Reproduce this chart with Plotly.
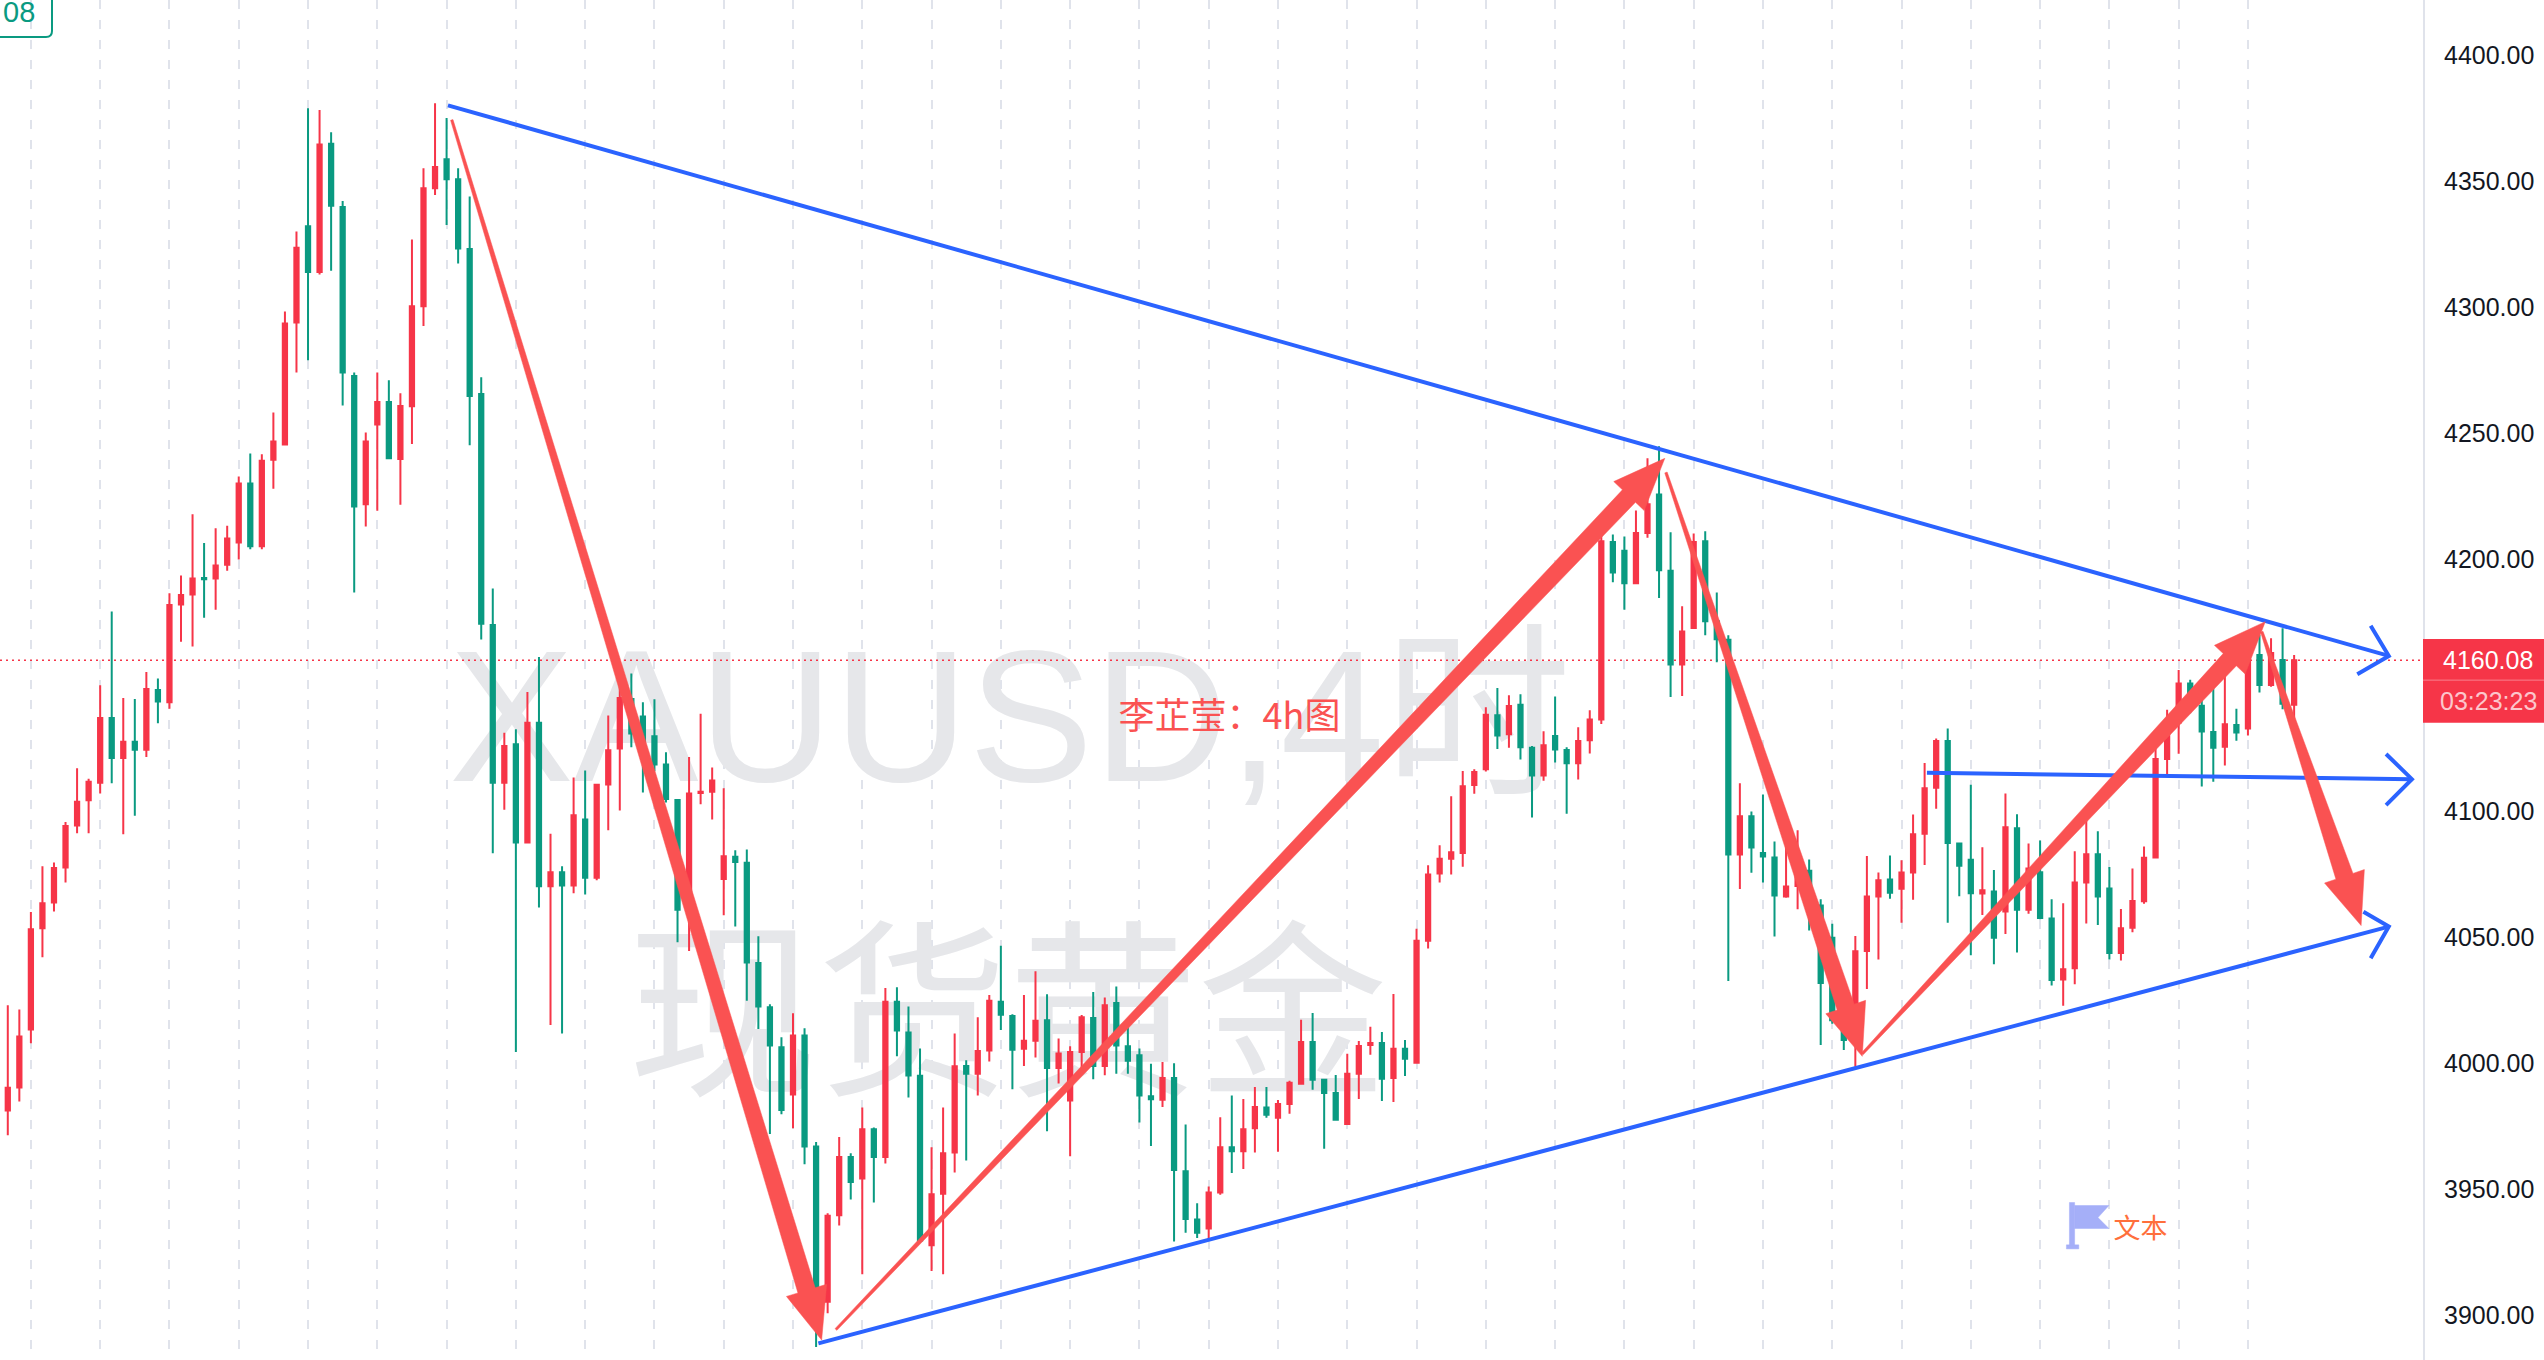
import plotly.graph_objects as go

# ---- candle data ----
open_ = [3981.4,3990.5,4013.6,4053.7,4064.0,4077.8,4094.5,4104.5,4111.5,4137.2,
 4121.3,4127.7,4124.6,4148.3,4143.4,4182.2,4186.2,4192.7,4192.5,4198.0,
 4206.8,4230.2,4205.3,4239.7,4245.7,4294.1,4332.3,4314.2,4365.1,4340.0,
 4272.9,4222.0,4253.6,4262.6,4240.0,4260.9,4300.6,4347.4,4358.9,4351.0,
 4323.3,4265.7,4174.1,4111.5,4126.8,4087.8,4135.3,4070.4,4076.0,4070.7,
 4096.9,4073.8,4110.8,4125.1,4144.7,4137.8,4129.9,4118.7,4104.6,4066.0,
 4107.4,4107.9,4073.3,4082.1,4079.7,4039.9,4022.4,4006.5,3987.8,4011.2,
 3967.1,3905.5,3939.8,3963.0,3954.4,3974.0,3963.0,4024.6,4012.4,3995.2,
 3927.9,3948.4,3964.7,3999.1,3996.0,4005.2,4024.6,4018.9,4005.9,4009.1,
 4017.2,3998.3,3985.4,4004.6,4018.1,3999.1,4024.1,4006.9,4003.3,3987.1,
 3985.7,3994.3,3957.3,3938.2,3934.6,3948.9,3966.8,3965.2,3974.4,3982.6,
 3978.5,3984.0,3992.0,4008.6,3993.6,3988.4,3976.1,3996.0,4007.4,4008.2,
 3994.3,4005.9,4000.4,4048.8,4075.5,4081.3,4083.6,4110.6,4116.8,4138.3,
 4130.7,4142.4,4125.4,4114.4,4130.0,4124.5,4119.2,4128.3,4136.6,4207.0,
 4203.5,4190.6,4210.6,4225.9,4195.6,4158.4,4172.9,4207.3,4175.6,4168.2,
 4083.0,4098.2,4083.6,4081.8,4066.3,4070.5,4076.6,4062.8,4050.0,4020.0,
 4010.0,4044.7,4066.3,4073.1,4069.4,4075.9,4091.2,4109.5,4128.0,4087.4,
 4080.9,4067.5,4068.3,4060.4,4093.4,4061.1,4076.0,4057.6,4033.4,4037.9,
 4071.9,4083.1,4069.5,4043.9,4053.9,4064.4,4081.8,4120.9,4135.4,4150.9,
 4142.0,4131.6,4125.8,4134.4,4133.0,4162.2,4150.3,4160.2,4142.4]
high = [4023.2,4021.5,4060.2,4078.3,4079.8,4095.9,4117.2,4113.1,4150.2,4179.4,
 4145.1,4144.7,4155.4,4152.8,4186.7,4193.7,4218.0,4206.6,4212.5,4213.5,
 4233.0,4242.1,4241.8,4258.4,4298.5,4330.2,4379.1,4378.4,4369.6,4342.3,
 4274.3,4250.5,4274.3,4271.2,4266.0,4327.1,4355.3,4381.1,4375.3,4355.3,
 4344.1,4272.4,4188.6,4131.3,4132.7,4147.5,4161.4,4091.2,4078.3,4113.6,
 4116.3,4110.7,4138.2,4151.0,4154.8,4143.4,4144.6,4123.6,4105.0,4121.7,
 4138.9,4117.5,4109.3,4084.7,4085.0,4050.6,4023.6,4010.5,4020.0,4014.1,
 3968.9,3940.6,3970.9,3964.4,3982.6,3974.7,4030.0,4030.3,4022.7,4006.0,
 3966.8,3982.6,4012.0,4001.4,4018.4,4027.2,4046.8,4019.6,4027.2,4036.7,
 4027.5,4010.0,4006.9,4019.3,4028.4,4026.3,4030.6,4014.6,4006.0,4000.0,
 4000.7,4000.2,3975.9,3944.6,3951.3,3978.7,3987.4,3986.0,3990.7,3990.7,
 3985.6,3993.2,4017.4,4020.1,3994.0,3995.5,4003.9,4009.0,4014.6,4012.6,
 4027.6,4009.4,4053.5,4078.7,4086.7,4106.1,4116.1,4116.8,4141.4,4149.1,
 4146.2,4146.6,4126.1,4131.9,4145.7,4125.6,4133.5,4140.2,4209.7,4210.0,
 4209.2,4219.5,4240.2,4245.0,4210.9,4181.5,4210.4,4211.3,4187.0,4170.0,
 4111.3,4100.1,4106.8,4088.2,4090.0,4092.6,4081.0,4065.2,4055.5,4030.0,
 4050.7,4082.4,4075.9,4082.6,4080.7,4098.9,4119.3,4129.0,4133.0,4087.6,
 4110.7,4085.9,4076.9,4107.2,4099.0,4087.4,4088.6,4065.2,4063.7,4084.3,
 4097.2,4092.2,4078.0,4061.4,4077.4,4086.2,4125.8,4140.4,4156.2,4152.3,
 4152.0,4149.6,4155.0,4140.8,4170.0,4170.1,4168.8,4172.8,4162.2]
low = [3971.6,3985.0,4008.1,4042.2,4060.4,4071.9,4091.4,4091.4,4107.2,4111.3,
 4091.0,4098.4,4121.7,4135.1,4140.8,4167.4,4165.5,4177.0,4180.1,4195.6,
 4200.1,4204.1,4204.1,4228.1,4245.7,4274.3,4279.1,4313.2,4314.7,4261.2,
 4187.0,4213.2,4219.4,4240.2,4221.8,4245.9,4292.7,4344.7,4332.8,4317.5,
 4245.4,4168.3,4083.5,4100.8,4004.6,4087.8,4062.0,4015.3,4012.0,4067.6,
 4067.1,4072.8,4092.6,4100.5,4125.6,4107.6,4116.0,4103.6,4048.2,4044.7,
 4102.9,4096.9,4058.9,4054.4,4025.0,4013.8,3972.1,3979.9,3974.4,3960.1,
 3887.6,3901.0,3935.8,3946.1,3916.4,3944.9,3960.4,4002.9,3986.6,3929.8,
 3917.7,3916.4,3956.8,3961.6,3987.4,4000.9,4013.4,3989.8,3999.1,4002.4,
 3973.2,3992.1,3963.3,3998.3,3993.8,3995.4,3996.0,3996.0,3976.6,3967.3,
 3982.8,3929.4,3932.9,3930.8,3930.3,3948.0,3956.6,3958.2,3964.7,3978.5,
 3965.0,3980.1,3992.0,3989.6,3966.2,3977.3,3975.7,3986.0,4003.5,3985.2,
 3984.8,3995.1,4000.4,4045.7,4071.9,4075.1,4078.1,4107.1,4115.9,4124.9,
 4125.4,4120.7,4097.7,4112.3,4119.5,4099.2,4112.8,4123.1,4134.8,4191.0,
 4180.1,4190.6,4208.7,4184.8,4145.5,4145.9,4172.9,4170.0,4159.3,4032.8,
 4069.3,4075.8,4071.9,4050.5,4065.8,4061.3,4052.8,4007.4,4015.8,4005.4,
 3998.8,4029.6,4041.3,4065.4,4055.9,4065.0,4078.8,4101.2,4055.9,4066.4,
 4043.0,4059.0,4039.4,4051.5,4044.1,4059.5,4057.3,4031.0,4023.0,4031.5,
 4055.6,4055.0,4041.3,4040.9,4052.1,4063.5,4081.8,4114.6,4123.0,4139.1,
 4110.0,4111.9,4118.3,4128.1,4130.2,4147.3,4149.6,4140.6,4136.4]
close = [3990.4,4010.8,4053.3,4063.7,4077.6,4094.3,4103.9,4111.9,4137.2,4121.3,
 4127.7,4124.6,4148.7,4143.7,4182.0,4186.0,4192.5,4192.2,4197.7,4208.4,
 4230.2,4205.3,4239.3,4246.9,4293.7,4323.8,4314.2,4364.8,4340.5,4274.3,
 4221.1,4246.9,4262.6,4240.2,4261.0,4300.6,4347.4,4355.8,4351.0,4323.5,
 4265.0,4174.6,4111.5,4126.1,4087.8,4135.3,4070.4,4076.0,4070.7,4098.6,
 4073.8,4110.7,4124.4,4145.1,4131.0,4128.0,4118.7,4105.0,4061.1,4107.2,
 4107.9,4112.4,4082.3,4080.0,4040.1,4022.7,4007.2,3981.6,4011.2,3967.1,
 3905.0,3939.6,3963.0,3953.0,3974.0,3963.0,4024.6,4013.2,3995.3,3929.8,
 3948.2,3964.4,3999.0,3996.0,4005.0,4025.0,4019.4,4005.5,4009.1,4017.0,
 3998.3,4004.0,4004.6,4018.4,3999.1,4023.2,4007.2,4001.2,3987.4,3985.9,
 3994.3,3957.8,3938.4,3932.9,3948.9,3966.8,3965.2,3974.0,3982.8,3979.7,
 3984.0,3992.4,4008.6,3993.6,3988.4,3977.7,3996.0,4007.0,4008.2,3994.0,
 4005.9,4001.9,4048.8,4075.1,4081.3,4083.9,4110.1,4115.7,4138.5,4130.2,
 4141.9,4125.6,4114.4,4126.4,4124.7,4119.2,4128.0,4136.6,4207.3,4194.9,
 4190.6,4210.6,4222.0,4195.8,4158.4,4171.5,4207.0,4175.6,4168.4,4083.0,
 4098.2,4085.8,4082.2,4066.7,4070.3,4075.0,4061.0,4032.0,4017.2,4009.4,
 4044.6,4066.3,4072.8,4067.8,4075.9,4091.0,4109.3,4128.0,4087.6,4078.5,
 4067.6,4068.8,4050.0,4093.8,4061.1,4077.4,4057.8,4033.2,4037.5,4071.9,
 4083.1,4066.3,4043.9,4053.7,4064.5,4081.7,4120.9,4133.0,4150.9,4142.0,
 4131.8,4125.4,4134.7,4131.4,4162.0,4150.3,4163.0,4142.8,4160.08]

last_price = 4160.08
y_ticks = [4400, 4350, 4300, 4250, 4200, 4150, 4100, 4050, 4000, 3950, 3900]
y_tick_labels = ["4400.00", "4350.00", "4300.00", "4250.00", "4200.00", "", "4100.00", "4050.00", "4000.00", "3950.00", "3900.00"]
grid_candles = list(range(2, 195, 6))

# drawing tools, as (candle number, price)
blue_upper = ([38.12, 206.2], [4380.3, 4161.8])
blue_upper_head = ([204.63, 206.2, 203.47], [4173.8, 4161.8, 4154.5])
blue_lower = ([70.2, 206.2], [3889.0, 4054.4])
blue_lower_head = ([204.0, 206.2, 204.63], [4060.3, 4054.4, 4041.8])
blue_mid = ([166.2, 208.2], [4115.4, 4112.9])
blue_mid_head = ([205.96, 208.2, 205.96], [4122.9, 4112.9, 4102.6])

red_arrows = [
    ((38.45, 4374.5), (70.48, 3890.3)),
    ((71.72, 3894.5), (143.5, 4240.2)),
    ((143.6, 4234.6), (160.6, 4002.9)),
    ((160.6, 4003.9), (195.5, 4175.4)),
    ((195.2, 4171.4), (203.8, 4054.8)),
]

N = len(open_)
candle_no = list(range(N))

PX_PER_CANDLE = 11.547
PX_PER_UNIT = 2.52
X_RANGE = [-0.675, 209.16]
Y_RANGE = [3882.4, 4422.1]

RED = "#F63548"
GREEN = "#0A9A81"
ARROW = "#FA5252"
BLUE = "#2B63FF"
FONT = "Liberation Sans"
CJK = "Noto Sans CJK SC"


def arrow_poly(start, tip, w0=2.5, w1=18.0, head_len=52.0, head_half=21.0):
    sx, sy = start[0] * PX_PER_CANDLE, -start[1] * PX_PER_UNIT
    tx, ty = tip[0] * PX_PER_CANDLE, -tip[1] * PX_PER_UNIT
    dx, dy = tx - sx, ty - sy
    L = (dx * dx + dy * dy) ** 0.5
    ux, uy = dx / L, dy / L
    nx, ny = -uy, ux
    bx, by = tx - ux * head_len, ty - uy * head_len
    pts = [
        (sx + nx * w0 / 2, sy + ny * w0 / 2),
        (bx + nx * w1 / 2, by + ny * w1 / 2),
        (bx + nx * head_half, by + ny * head_half),
        (tx, ty),
        (bx - nx * head_half, by - ny * head_half),
        (bx - nx * w1 / 2, by - ny * w1 / 2),
        (sx - nx * w0 / 2, sy - ny * w0 / 2),
    ]
    pts.append(pts[0])
    return [p[0] / PX_PER_CANDLE for p in pts], [-p[1] / PX_PER_UNIT for p in pts]


fig = go.Figure()

# watermark and last-price line live on the lower axes, under the candles
fig.add_trace(go.Scatter(x=[86.8], y=[4130.7], mode="text", text=["XAUUSD,4时"],
    textposition="middle center", textfont=dict(size=187, color="#E6E7EA", family=FONT + ", " + CJK),
    hoverinfo="skip", showlegend=False))
fig.add_trace(go.Scatter(x=[86.6], y=[4012.0], mode="text", text=["现货黄金"],
    textposition="middle center", textfont=dict(size=190, color="#E6E7EA", family=CJK),
    hoverinfo="skip", showlegend=False))
fig.add_trace(go.Scatter(x=X_RANGE, y=[last_price, last_price], mode="lines",
    line=dict(color=RED, width=1.5, dash="2px,4px"), hoverinfo="skip", showlegend=False))

# candles
fig.add_trace(go.Candlestick(x=candle_no, open=open_, high=high, low=low, close=close,
    xaxis="x2", yaxis="y2", whiskerwidth=0,
    increasing=dict(line=dict(color=RED, width=2), fillcolor=RED),
    decreasing=dict(line=dict(color=GREEN, width=2), fillcolor=GREEN),
    hoverinfo="skip", showlegend=False))


def over(**kw):
    fig.add_trace(go.Scatter(xaxis="x2", yaxis="y2", hoverinfo="skip", showlegend=False, **kw))


for line in (blue_upper, blue_upper_head, blue_lower, blue_lower_head, blue_mid, blue_mid_head):
    over(x=line[0], y=line[1], mode="lines", line=dict(color=BLUE, width=4))

for start, tip in red_arrows:
    xs, ys = arrow_poly(start, tip)
    over(x=xs, y=ys, mode="lines", line=dict(color=ARROW, width=0.5), fill="toself", fillcolor=ARROW)

over(x=[105.8], y=[4136.4], mode="text", text=["李芷莹：4h图"], textposition="middle center",
     textfont=dict(size=36, color=ARROW, family=CJK))
over(x=[184.7], y=[3933.4], mode="text", text=["文本"], textposition="middle center",
     textfont=dict(size=27, color="#FF6F3C", family=CJK))

# flag marker
FLAG = "#A5AFF8"
over(x=[178.54, 178.99, 178.99, 178.54, 178.54], y=[3944.9, 3944.9, 3926.9, 3926.9, 3944.9],
     mode="lines", line=dict(color=FLAG, width=0.5), fill="toself", fillcolor=FLAG)
over(x=[178.28, 179.35, 179.35, 178.28, 178.28], y=[3928.1, 3928.1, 3926.5, 3926.5, 3928.1],
     mode="lines", line=dict(color=FLAG, width=0.5), fill="toself", fillcolor=FLAG)
over(x=[178.99, 181.96, 181.01, 181.96, 178.99, 178.99], y=[3943.7, 3943.7, 3938.9, 3934.6, 3934.6, 3943.7],
     mode="lines", line=dict(color=FLAG, width=0.5), fill="toself", fillcolor=FLAG)

W, H = 2544, 1360
PLOT_W = 2423
tag_x1 = W / PLOT_W
shapes = [
    dict(type="rect", xref="paper", yref="y", x0=1, x1=tag_x1, y0=4135.3, y1=4168.5,
         fillcolor=RED, line=dict(width=0), layer="above"),
    dict(type="line", xref="paper", yref="y", x0=1, x1=tag_x1, y0=4152.2, y1=4152.2,
         line=dict(color="#F9808C", width=1), layer="above"),
    dict(type="path", xref="paper", yref="paper",
         path=f"M 0,{1-37/H} L {46/PLOT_W},{1-37/H} Q {52/PLOT_W},{1-37/H} {52/PLOT_W},{1-31/H} L {52/PLOT_W},1",
         line=dict(color=GREEN, width=2), layer="above"),
]
annotations = [
    dict(xref="paper", yref="y", x=1 + 65 / PLOT_W, y=last_price, xanchor="center", text="4160.08", showarrow=False,
         font=dict(family=FONT, size=25, color="#FFFFFF")),
    dict(xref="paper", yref="y", x=1 + 65 / PLOT_W, y=4143.9, xanchor="center", text="03:23:23", showarrow=False,
         font=dict(family=FONT, size=25, color="#FCC6CC")),
    dict(xref="paper", yref="paper", x=19 / PLOT_W, y=1 - 12 / H, xanchor="center", yanchor="middle", text="08", showarrow=False,
         font=dict(family=FONT, size=29, color=GREEN)),
]

fig.update_layout(
    width=W, height=H, margin=dict(l=0, r=W - PLOT_W, t=0, b=0),
    paper_bgcolor="#FFFFFF", plot_bgcolor="#FFFFFF", showlegend=False,
    boxgap=0.63, boxgroupgap=0,
    shapes=shapes, annotations=annotations,
    xaxis=dict(range=X_RANGE, tickvals=grid_candles, showticklabels=False, ticks="",
               showgrid=True, gridcolor="#E0E3EB", gridwidth=2, griddash="9px,11px",
               zeroline=False, showline=False),
    yaxis=dict(range=Y_RANGE, side="right", tickvals=y_ticks, ticktext=y_tick_labels,
               tickfont=dict(family=FONT, size=25, color="#131722"), ticks="", ticklabelstandoff=14,
               showgrid=False, zeroline=False, showline=True, linecolor="#E0E3EB", linewidth=2),
    xaxis2=dict(range=X_RANGE, overlaying="x", visible=False, rangeslider=dict(visible=False)),
    yaxis2=dict(range=Y_RANGE, overlaying="y", visible=False),
)

fig.write_html("out.html", config=dict(displayModeBar=False),
               post_script="document.body.style.margin='0';document.documentElement.style.overflow='hidden';")
